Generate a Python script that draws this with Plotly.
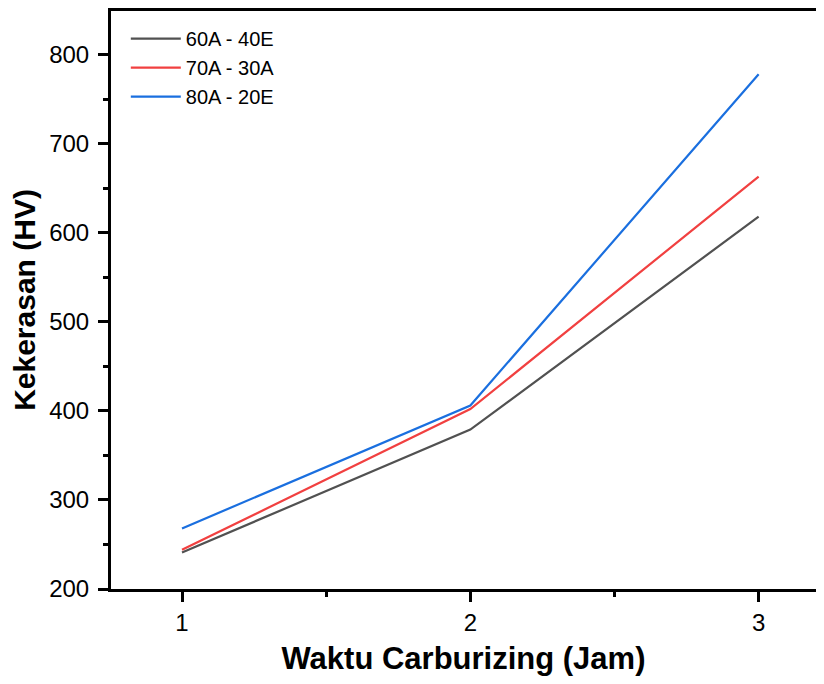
import plotly.graph_objects as go

waktu = [1, 2, 3]
series_names = ["60A - 40E", "70A - 30A", "80A - 20E"]
hv_60_40 = [241, 379, 618]
hv_70_30 = [244, 402, 663]
hv_80_20 = [268, 406, 778]
colors = ["#515151", "#F14040", "#1A6FDF"]

fig = go.Figure()
for name, vals, c in zip(series_names, [hv_60_40, hv_70_30, hv_80_20], colors):
    fig.add_trace(go.Scatter(x=waktu, y=vals, mode="lines", name=name,
                             line=dict(color=c, width=2.2)))

font_family = "Liberation Sans, Arial, sans-serif"
fig.update_layout(
    width=808, height=668,
    margin=dict(l=103, r=0, t=1, b=87),
    plot_bgcolor="white", paper_bgcolor="white",
    font=dict(family=font_family, color="black"),
    showlegend=True,
    legend=dict(x=0.021, y=0.986, xanchor="left", yanchor="top",
                font=dict(size=20, family=font_family, color="black"),
                bgcolor="rgba(0,0,0,0)", itemwidth=50, tracegroupgap=0),
    xaxis=dict(range=[0.7537, 3.199], tickvals=[1, 2, 3],
               ticks="outside", ticklen=10, tickwidth=3, tickcolor="black",
               showline=True, linewidth=3, linecolor="black", mirror=True,
               showgrid=False, zeroline=False,
               tickfont=dict(size=24),
               minor=dict(ticks="outside", ticklen=5, tickwidth=3, dtick=0.5, tick0=0.5,
                          tickcolor="black", showgrid=False),
               title=dict(text="<b>Waktu Carburizing (Jam)</b>", font=dict(size=31), standoff=19)),
    yaxis=dict(range=[200, 849], tickvals=[200, 300, 400, 500, 600, 700, 800],
               ticks="outside", ticklen=10, tickwidth=3, tickcolor="black",
               showline=True, linewidth=3, linecolor="black", mirror=False,
               showgrid=False, zeroline=False,
               tickfont=dict(size=24), ticklabelstandoff=4,
               minor=dict(ticks="outside", ticklen=5, tickwidth=3, dtick=50, tick0=250,
                          tickcolor="black", showgrid=False),
               title=dict(text="<b>Kekerasan (HV)</b>", font=dict(size=30), standoff=8)),
)

fig.write_html("out.html")
